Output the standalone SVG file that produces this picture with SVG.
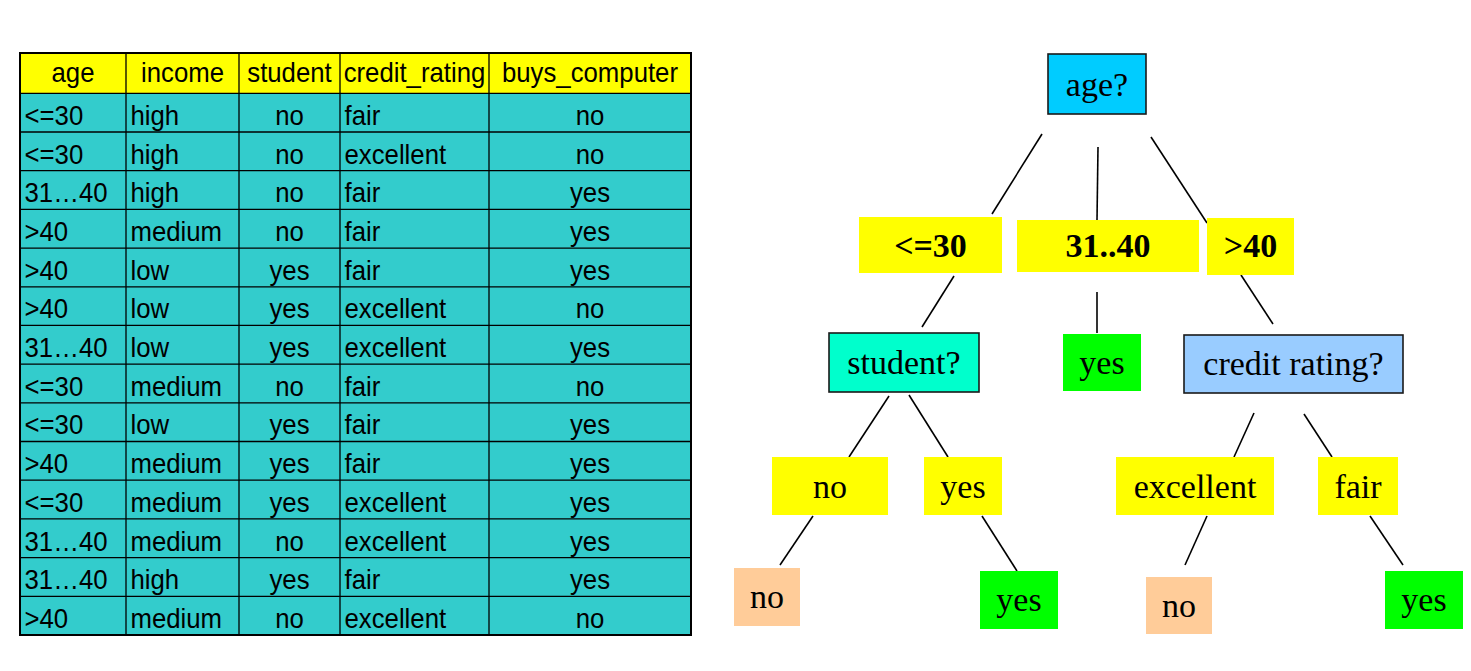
<svg xmlns="http://www.w3.org/2000/svg" width="1471" height="671" viewBox="0 0 1471 671">
<style>
.tt{font-family:"Liberation Sans",Arial,sans-serif;font-size:28px;fill:#000}
.c{text-anchor:middle}
.cell{fill:#33CCCC}
.hdr{fill:#FFFF00}
.grid{stroke:#000;stroke-width:1.3;fill:none}
.tn{font-family:"Liberation Serif","Times New Roman",serif;font-size:34px;text-anchor:middle;fill:#000}
.b{font-weight:bold}
.q{stroke:#1a1a1a;stroke-width:1.6}
.y{fill:#FFFF00}
.g{fill:#00FF00}
.p{fill:#FFCC99}
.edge{stroke:#000;stroke-width:1.6;fill:none}
</style>
<rect width="1471" height="671" fill="#fff"/>
<g id="table">
<rect class="hdr" x="20" y="53" width="671" height="40.3"/>
<rect class="cell" x="20" y="93.3" width="671" height="541.7"/>
<g class="grid">
<path d="M20 93.3H691M20 132H691M20 170.7H691M20 209.4H691M20 248.1H691M20 286.8H691M20 325.4H691M20 364.1H691M20 402.8H691M20 441.5H691M20 480.2H691M20 518.9H691M20 557.6H691M20 596.3H691"/>
<path d="M126 53V635M239 53V635M340 53V635M489 53V635"/>
<rect x="20" y="53" width="671" height="582" stroke-width="2"/>
</g>
<g transform="scale(0.92 1)" class="tt">
<text class="c" x="79.35" y="82.3">age</text>
<text class="c" x="198.37" y="82.3">income</text>
<text class="c" x="314.67" y="82.3">student</text>
<text class="c" x="450.54" y="82.3">credit_rating</text>
<text class="c" x="641.3" y="82.3">buys_computer</text>

<text x="26.63" y="125">&lt;=30</text><text x="141.85" y="125">high</text><text class="c" x="314.67" y="125">no</text><text x="374.46" y="125">fair</text><text class="c" x="641.3" y="125">no</text>
<text x="26.63" y="163.7">&lt;=30</text><text x="141.85" y="163.7">high</text><text class="c" x="314.67" y="163.7">no</text><text x="374.46" y="163.7">excellent</text><text class="c" x="641.3" y="163.7">no</text>
<text x="26.63" y="202.4">31…40</text><text x="141.85" y="202.4">high</text><text class="c" x="314.67" y="202.4">no</text><text x="374.46" y="202.4">fair</text><text class="c" x="641.3" y="202.4">yes</text>
<text x="26.63" y="241.1">&gt;40</text><text x="141.85" y="241.1">medium</text><text class="c" x="314.67" y="241.1">no</text><text x="374.46" y="241.1">fair</text><text class="c" x="641.3" y="241.1">yes</text>
<text x="26.63" y="279.8">&gt;40</text><text x="141.85" y="279.8">low</text><text class="c" x="314.67" y="279.8">yes</text><text x="374.46" y="279.8">fair</text><text class="c" x="641.3" y="279.8">yes</text>
<text x="26.63" y="318.5">&gt;40</text><text x="141.85" y="318.5">low</text><text class="c" x="314.67" y="318.5">yes</text><text x="374.46" y="318.5">excellent</text><text class="c" x="641.3" y="318.5">no</text>
<text x="26.63" y="357.1">31…40</text><text x="141.85" y="357.1">low</text><text class="c" x="314.67" y="357.1">yes</text><text x="374.46" y="357.1">excellent</text><text class="c" x="641.3" y="357.1">yes</text>
<text x="26.63" y="395.8">&lt;=30</text><text x="141.85" y="395.8">medium</text><text class="c" x="314.67" y="395.8">no</text><text x="374.46" y="395.8">fair</text><text class="c" x="641.3" y="395.8">no</text>
<text x="26.63" y="434.5">&lt;=30</text><text x="141.85" y="434.5">low</text><text class="c" x="314.67" y="434.5">yes</text><text x="374.46" y="434.5">fair</text><text class="c" x="641.3" y="434.5">yes</text>
<text x="26.63" y="473.2">&gt;40</text><text x="141.85" y="473.2">medium</text><text class="c" x="314.67" y="473.2">yes</text><text x="374.46" y="473.2">fair</text><text class="c" x="641.3" y="473.2">yes</text>
<text x="26.63" y="511.9">&lt;=30</text><text x="141.85" y="511.9">medium</text><text class="c" x="314.67" y="511.9">yes</text><text x="374.46" y="511.9">excellent</text><text class="c" x="641.3" y="511.9">yes</text>
<text x="26.63" y="550.6">31…40</text><text x="141.85" y="550.6">medium</text><text class="c" x="314.67" y="550.6">no</text><text x="374.46" y="550.6">excellent</text><text class="c" x="641.3" y="550.6">yes</text>
<text x="26.63" y="589.3">31…40</text><text x="141.85" y="589.3">high</text><text class="c" x="314.67" y="589.3">yes</text><text x="374.46" y="589.3">fair</text><text class="c" x="641.3" y="589.3">yes</text>
<text x="26.63" y="628">&gt;40</text><text x="141.85" y="628">medium</text><text class="c" x="314.67" y="628">no</text><text x="374.46" y="628">excellent</text><text class="c" x="641.3" y="628">no</text>
</g>
</g>
<g id="connectors" class="edge">
<line x1="1042" y1="134" x2="992" y2="214"/>
<line x1="1098" y1="147" x2="1097" y2="220"/>
<line x1="1151" y1="137" x2="1207" y2="223"/>
<line x1="954" y1="276" x2="922" y2="327"/>
<line x1="1097" y1="292" x2="1097" y2="333"/>
<line x1="1241" y1="275" x2="1273" y2="324"/>
<line x1="889" y1="396" x2="849" y2="457"/>
<line x1="909" y1="395" x2="948" y2="457"/>
<line x1="1254" y1="413" x2="1234" y2="457"/>
<line x1="1304" y1="414" x2="1332" y2="457"/>
<line x1="813" y1="516" x2="780" y2="565"/>
<line x1="982" y1="516" x2="1017" y2="571"/>
<line x1="1207" y1="516" x2="1185" y2="565"/>
<line x1="1370" y1="516" x2="1403" y2="565"/>
</g>
<g id="node-age"><rect class="q" x="1048" y="54" width="98" height="60" fill="#00CCFF"/><text class="tn" x="1097" y="96">age?</text></g>
<g id="node-le30"><rect class="y" x="859" y="217" width="143" height="56"/><text class="tn b" x="930.5" y="257">&lt;=30</text></g>
<g id="node-31-40"><rect class="y" x="1017" y="220" width="182" height="52"/><text class="tn b" x="1108" y="257">31..40</text></g>
<g id="node-gt40"><rect class="y" x="1207" y="218" width="87" height="57"/><text class="tn b" x="1250.5" y="257">&gt;40</text></g>
<g id="node-student"><rect class="q" x="829" y="333" width="150" height="59" fill="#00FFCC"/><text class="tn" x="904" y="374">student?</text></g>
<g id="node-yes-mid"><rect class="g" x="1063" y="334" width="78" height="57"/><text class="tn" x="1102" y="374">yes</text></g>
<g id="node-credit"><rect class="q" x="1184" y="335" width="219" height="58" fill="#99CCFF"/><text class="tn" x="1293.5" y="375">credit rating?</text></g>
<g id="node-no-branch"><rect class="y" x="772" y="457" width="116" height="58"/><text class="tn" x="830" y="498">no</text></g>
<g id="node-yes-branch"><rect class="y" x="924" y="457" width="78" height="58"/><text class="tn" x="963" y="498">yes</text></g>
<g id="node-excellent"><rect class="y" x="1116" y="457" width="158" height="58"/><text class="tn" x="1195" y="498">excellent</text></g>
<g id="node-fair"><rect class="y" x="1318" y="457" width="80" height="58"/><text class="tn" x="1358" y="498">fair</text></g>
<g id="leaf-no-left"><rect class="p" x="734" y="568" width="66" height="58"/><text class="tn" x="767" y="608">no</text></g>
<g id="leaf-yes-left"><rect class="g" x="980" y="571" width="78" height="58"/><text class="tn" x="1019" y="611">yes</text></g>
<g id="leaf-no-right"><rect class="p" x="1146" y="577" width="66" height="57"/><text class="tn" x="1179" y="617">no</text></g>
<g id="leaf-yes-right"><rect class="g" x="1385" y="571" width="78" height="58"/><text class="tn" x="1424" y="611">yes</text></g>
</svg>
